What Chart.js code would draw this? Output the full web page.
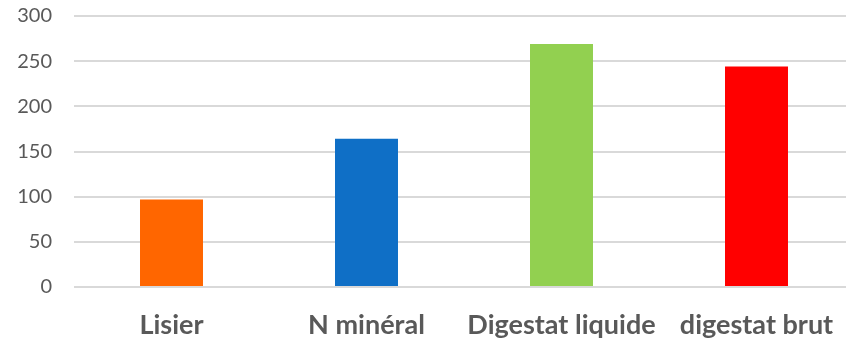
<!DOCTYPE html>
<html>
<head>
<meta charset="utf-8">
<script src="https://cdn.jsdelivr.net/npm/chart.js@4/dist/chart.umd.min.js"></script>
<style>
    html, body { margin: 0; padding: 0; background: #fff; overflow: hidden; }
    #wrap { width: 870px; height: 359px; margin-top: -18px; }
</style>
</head>
<body>
<div id="wrap"><canvas id="chart" width="870" height="359"></canvas></div>
<script>
const categories = ['Lisier', 'N minéral', 'Digestat liquide', 'digestat brut'];
const values = [97, 164, 269, 244];
const barColors = ['#FF6600', '#0F6FC6', '#92D050', '#FF0000'];
const yTicks = [0, 50, 100, 150, 200, 250, 300];

const ctx = document.getElementById('chart').getContext('2d');
new Chart(ctx, {
    type: 'bar',
    data: {
        labels: categories,
        datasets: [{
            data: values,
            backgroundColor: barColors,
            borderWidth: 0,
            categoryPercentage: 1,
            barPercentage: 0.323
        }]
    },
    options: {
        responsive: false,
        animation: false,
        layout: { padding: { top: 0, right: 16, left: 0, bottom: 0 } },
        plugins: {
            legend: { display: false },
            tooltip: { enabled: false }
        },
        scales: {
            x: {
                grid: { display: false, drawTicks: false },
                border: { display: false },
                ticks: {
                    color: '#595959',
                    padding: 22,
                    font: { family: 'Lato', size: 27, weight: 'bold' }
                },
                afterFit: scale => { scale.height = 54; }
            },
            y: {
                min: 0,
                max: 300,
                afterBuildTicks: scale => {
                    scale.ticks = yTicks.map(v => ({ value: v }));
                },
                grid: { color: '#D9D9D9', lineWidth: 2, drawTicks: false },
                border: { display: false },
                ticks: {
                    color: '#595959',
                    padding: 22,
                    font: { family: 'Lato', size: 20 }
                },
                afterFit: scale => { scale.width = 74; }
            }
        }
    }
});
</script>
</body>
</html>
